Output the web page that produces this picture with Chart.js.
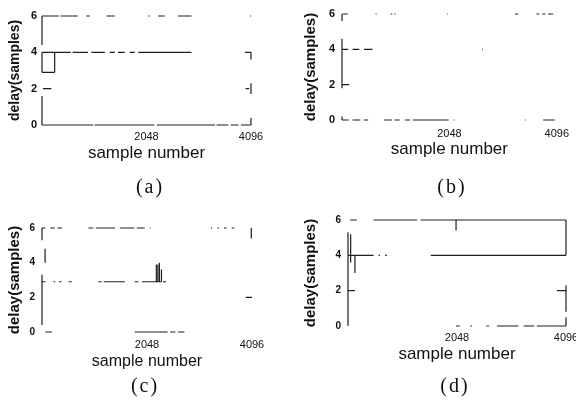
<!DOCTYPE html>
<html>
<head>
<meta charset="utf-8">
<script src="https://cdn.jsdelivr.net/npm/chart.js@4.4.0/dist/chart.umd.min.js"></script>
<style>
  body { margin: 0; width: 576px; height: 404px; overflow: hidden; position: relative; background: #fff; }
  canvas { position: absolute; }
  .cap { position: absolute; font-family: "Liberation Serif", serif; font-size: 20px; letter-spacing: 2px; color: #111; transform: translate(-50%, -50%); }
</style>
</head>
<body>
<canvas id="ca" width="288" height="202" style="left:0;top:0"></canvas>
<canvas id="cb" width="288" height="202" style="left:288px;top:0"></canvas>
<canvas id="cc" width="288" height="202" style="left:0;top:202px"></canvas>
<canvas id="cd" width="300" height="202" style="left:288px;top:202px"></canvas>
<div class="cap" style="left:150px;top:186px">(a)</div>
<div class="cap" style="left:452px;top:186px">(b)</div>
<div class="cap" style="left:145px;top:385px">(c)</div>
<div class="cap" style="left:455px;top:385px">(d)</div>
<script>
// tick labels
const xTicks = [2048, 4096];
const yTicks = [0, 2, 4, 6];

// horizontal runs of the delay trace: [delay, from sample, to sample]
// vertical jumps: [sample, from delay, to delay]
const aRuns = [
  [6, 0, 330], [6, 360, 700], [6, 870, 935], [6, 1262, 1426], [6, 2080, 2110], [6, 2276, 2407], [6, 2668, 2930], [6, 4080, 4096],
  [4, 0, 248], [4, 248, 560], [4, 600, 900], [4, 968, 1230], [4, 1328, 1426], [4, 1490, 1622], [4, 1720, 1818], [4, 1884, 2930], [4, 3980, 4096],
  [2.9, 0, 248],
  [2, 20, 183], [2, 3990, 4060],
  [0, 0, 1000], [0, 1030, 2200], [0, 2250, 3390], [0, 3420, 3650], [0, 3700, 3850], [0, 3900, 4096]
];
const aSteps = [[0, 0, 1.6], [0, 2.9, 4], [0, 4.4, 6], [248, 2.9, 4], [4096, 0, 0.4], [4096, 1.7, 2.3], [4096, 3.6, 4]];

const bRuns = [
  [6, 13, 108], [6, 640, 660], [6, 930, 960], [6, 1000, 1024], [6, 2000, 2015], [6, 3300, 3362], [6, 3710, 3760], [6, 3820, 3880], [6, 3930, 4026],
  [4, 0, 120], [4, 200, 330], [4, 420, 580], [4, 1050, 1065], [4, 2675, 2690],
  [2, 0, 139], [2, 4085, 4096],
  [0, 0, 130], [0, 200, 350], [0, 420, 500], [0, 800, 950], [0, 1000, 1100], [0, 1200, 1300], [0, 1350, 2035], [0, 2130, 2145], [0, 3170, 3185], [0, 3490, 3505], [0, 3836, 4057]
];
const bSteps = [[0, 1.8, 4.6], [0, 5.6, 6], [0, 0, 0.2]];

const cRuns = [
  [6, 0, 65], [6, 160, 250], [6, 300, 390], [6, 905, 1000], [6, 1050, 1421], [6, 1518, 1800], [6, 1850, 2003], [6, 2100, 2115], [6, 3295, 3320], [6, 3420, 3450], [6, 3550, 3600], [6, 3700, 3747],
  [2.9, 0, 65], [2.9, 226, 260], [2.9, 330, 380], [2.9, 520, 581], [2.9, 1098, 1160], [2.9, 1200, 1615], [2.9, 1809, 1880], [2.9, 1950, 2330], [2.9, 2360, 2420],
  [2, 3973, 4096],
  [0, 65, 194], [0, 1292, 1305], [0, 1809, 2450], [0, 2500, 2600], [0, 2650, 2778]
];
const cSteps = [[0, 5.3, 6], [60, 4, 4.8], [0, 0.4, 3.3], [2230, 2.9, 3.9], [2260, 2.9, 3.9], [2290, 2.9, 4], [2330, 2.9, 3.6], [4083, 5.4, 6]];

const dRuns = [
  [6, 40, 165], [6, 480, 1300], [6, 1365, 2030], [6, 2030, 2755], [6, 2755, 4096],
  [4, 0, 130], [4, 130, 480], [4, 575, 600], [4, 700, 733], [4, 1017, 1030], [4, 1555, 4096],
  [2, 0, 130], [2, 3925, 4096],
  [0, 2030, 2100], [0, 2300, 2330], [0, 2600, 2650], [0, 2800, 3200], [0, 3300, 3500], [0, 3550, 4096]
];
const dSteps = [[0, 0, 5.3], [50, 3.6, 5.2], [130, 3, 4], [2030, 5.4, 6], [4096, 4, 6], [4096, 0.8, 2.3], [4096, 0, 0.5]];

// build one panel; g holds the plot box inside the canvas
function drawPanel(id, runs, steps, g) {
  const pts = [];
  runs.forEach(([lv, a, b]) => pts.push({x: a, y: lv}, {x: b, y: lv}, {x: b, y: null}));
  steps.forEach(([x, y0, y1]) => pts.push({x: x, y: y0}, {x: x, y: y1}, {x: x, y: null}));

  const cv = document.getElementById(id);
  const W = cv.width, H = cv.height;
  const ylh = g.yFont * 1.2, xlh = g.xFont * 1.2;
  const padL = g.yTitle - ylh / 2;
  const xBottom = g.xTitle + xlh / 2;

  new Chart(cv, {
    type: 'line',
    data: {
      datasets: [{
        data: pts,
        borderColor: '#1e1e1e',
        borderWidth: 1.2,
        pointRadius: 0,
        spanGaps: false,
        clip: false
      }]
    },
    options: {
      responsive: false,
      animation: false,
      events: [],
      layout: { padding: { left: padL, right: W - g.R, top: g.T, bottom: H - xBottom } },
      plugins: { legend: { display: false }, tooltip: { enabled: false } },
      scales: {
        x: {
          type: 'linear', min: 0, max: 4096,
          afterBuildTicks: s => { s.ticks = xTicks.map(v => ({value: v})); },
          afterFit: s => { s.height = xBottom - g.B; },
          grid: { display: false, drawTicks: false },
          border: { display: false },
          ticks: { padding: g.xPad, maxRotation: 0, color: '#111', font: { family: 'Liberation Sans', size: 11 }, callback: v => String(v) },
          title: { display: true, text: 'sample number', padding: 0, color: '#111', font: { family: 'Liberation Sans', size: g.xFont } }
        },
        y: {
          min: 0, max: 6,
          afterBuildTicks: s => { s.ticks = yTicks.map(v => ({value: v})); },
          afterFit: s => { s.width = g.L - padL; },
          grid: { display: false, drawTicks: false },
          border: { display: false },
          ticks: { padding: g.yPad, color: '#111', font: { family: 'Liberation Sans', size: g.tickFont, weight: 'bold' }, callback: v => String(v) },
          title: { display: true, text: 'delay(samples)', padding: 0, color: '#111', font: { family: 'Liberation Sans', size: g.yFont, weight: 'bold' } }
        }
      }
    }
  });
}

drawPanel('ca', aRuns, aSteps, { L: 42, R: 251, T: 16, B: 125, yTitle: 15, xTitle: 153, yFont: 14, xFont: 17, xPad: 5, yPad: 5, tickFont: 11 });
drawPanel('cb', bRuns, bSteps, { L: 54, R: 271, T: 14, B: 120, yTitle: 23, xTitle: 149, yFont: 15, xFont: 17, xPad: 7, yPad: 7, tickFont: 11 });
drawPanel('cc', cRuns, cSteps, { L: 42, R: 252, T: 26, B: 130, yTitle: 15, xTitle: 160, yFont: 15, xFont: 16, xPad: 6, yPad: 7, tickFont: 10 });
drawPanel('cd', dRuns, dSteps, { L: 60, R: 278, T: 18, B: 124, yTitle: 23, xTitle: 152, yFont: 15, xFont: 17, xPad: 5, yPad: 7, tickFont: 10 });
</script>
</body>
</html>
